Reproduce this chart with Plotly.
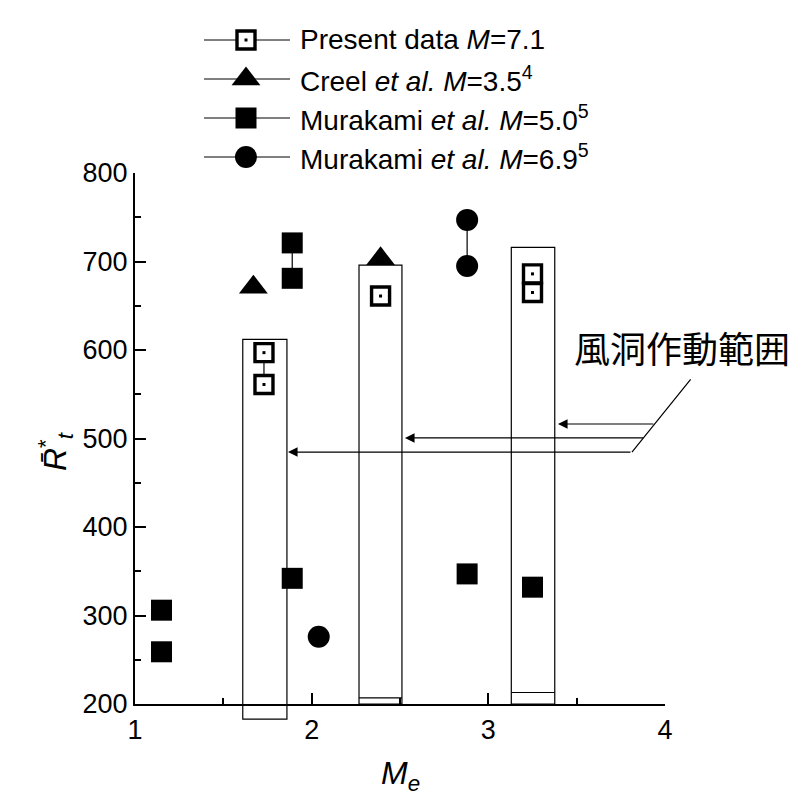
import plotly.graph_objects as go

# ---- data -------------------------------------------------------------
# points sharing a group id are joined by a line
present_x = [1.73, 1.73, 2.39, 3.25, 3.25]
present_y = [597, 561, 661, 686, 665]
present_grp = [0, 0, 1, 2, 2]

creel_x = [1.67, 2.39]
creel_y = [671, 703]
creel_grp = [0, 1]

mura50_x = [1.15, 1.15, 1.89, 1.89, 1.89, 2.88, 3.25]
mura50_y = [306, 259, 721, 681, 342, 347, 332]
mura50_grp = [0, 1, 2, 2, 3, 4, 5]

mura69_x = [2.04, 2.88, 2.88]
mura69_y = [276, 747, 695]
mura69_grp = [0, 1, 1]

# wind-tunnel operating ranges
range_x0 = [1.61, 2.268, 3.13]
range_x1 = [1.86, 2.511, 3.376]
range_y0 = [183, 200, 200]
range_y1 = [612, 696, 716]
range_inner = [None, 207, 213]

legend_labels = [
    "Present data <i>M</i>=7.1",
    "Creel <i>et al.</i> <i>M</i>=3.5<sup>4</sup>",
    "Murakami <i>et al.</i> <i>M</i>=5.0<sup>5</sup>",
    "Murakami <i>et al.</i> <i>M</i>=6.9<sup>5</sup>",
]

# ---- geometry ---------------------------------------------------------
W, H = 795, 805
X_RANGE = [1, 4]
Y_RANGE = [200, 800]
XDOM = [135 / W, 665 / W]
YDOM = [(H - 704) / H, (H - 173) / H]
FONT = "Liberation Sans, Arial, sans-serif"


def ypaper(v):
    return YDOM[0] + (v - Y_RANGE[0]) / (Y_RANGE[1] - Y_RANGE[0]) * (YDOM[1] - YDOM[0])


def grouped(xs, ys, grp):
    """Insert gaps between groups so only points of one group are joined."""
    gx, gy = [], []
    for i, (x, y) in enumerate(zip(xs, ys)):
        if i > 0 and grp[i] != grp[i - 1]:
            gx.append(None)
            gy.append(None)
        gx.append(x)
        gy.append(y)
    return gx, gy


# open square: white-filled box with a small centre dot drawn on top
styles = [
    dict(symbol="square", size=18, color="white", line=dict(width=3.4, color="black")),
    dict(symbol="triangle-up", size=25, color="black", line=dict(width=0)),
    dict(symbol="square", size=21, color="black", line=dict(width=0)),
    dict(symbol="circle", size=22, color="black", line=dict(width=0)),
]
centre_dot = dict(symbol="square", size=3, color="black", line=dict(width=0))

series = [
    grouped(present_x, present_y, present_grp),
    grouped(creel_x, creel_y, creel_grp),
    grouped(mura50_x, mura50_y, mura50_grp),
    grouped(mura69_x, mura69_y, mura69_grp),
]

fig = go.Figure()

for (gx, gy), st in zip(series, styles):
    fig.add_trace(go.Scatter(
        x=gx, y=gy, mode="lines+markers", marker=st,
        line=dict(color="black", width=1.2), showlegend=False,
        cliponaxis=False, connectgaps=False,
    ))
fig.add_trace(go.Scatter(
    x=present_x, y=present_y, mode="markers", marker=centre_dot,
    showlegend=False, cliponaxis=False, hoverinfo="skip",
))

# ---- legend key drawn in pixel space --------------------------------
row_y = [40, 79, 118, 157]
for i, (ry, st, lab) in enumerate(zip(row_y, styles, legend_labels)):
    fig.add_trace(go.Scatter(
        x=[204, 246, 290], y=[ry, ry, ry], mode="lines", line=dict(color="black", width=1),
        xaxis="x2", yaxis="y2", showlegend=False, hoverinfo="skip",
    ))
    fig.add_trace(go.Scatter(
        x=[246], y=[ry], mode="markers", marker=st,
        xaxis="x2", yaxis="y2", showlegend=False, hoverinfo="skip",
    ))
    if i == 0:
        fig.add_trace(go.Scatter(
            x=[246], y=[ry], mode="markers", marker=centre_dot,
            xaxis="x2", yaxis="y2", showlegend=False, hoverinfo="skip",
        ))
    fig.add_annotation(
        x=298 / W, y=1 - ry / H, xref="paper", yref="paper", text=lab,
        showarrow=False, xanchor="left", yanchor="middle",
        font=dict(family=FONT, size=28, color="black"),
    )

# ---- operating-range boxes -------------------------------------------
for x0, x1, y0, y1, yi in zip(range_x0, range_x1, range_y0, range_y1, range_inner):
    fig.add_shape(type="rect", xref="x", yref="paper", x0=x0, x1=x1,
                  y0=ypaper(y0), y1=ypaper(y1), line=dict(color="black", width=1.2),
                  layer="below")
    if yi is not None:
        fig.add_shape(type="line", xref="x", yref="paper", x0=x0, x1=x1,
                      y0=ypaper(yi), y1=ypaper(yi), line=dict(color="black", width=1.2),
                      layer="below")

# ---- callout ----------------------------------------------------------
fig.add_annotation(
    x=572 / W, y=1 - 347 / H, xref="paper", yref="paper", text="風洞作動範囲",
    showarrow=False, xanchor="left", yanchor="middle",
    font=dict(family="Noto Sans CJK JP", size=36, color="black"),
)
arrow_head_x = [3.394, 2.528, 1.866]
arrow_tail_x = [3.943, 3.886, 3.813]
arrow_y = [516.4, 500.6, 484.7]
for hx, tx, ay in zip(arrow_head_x, arrow_tail_x, arrow_y):
    fig.add_annotation(
        x=hx, y=ay, ax=tx, ay=ay, xref="x", yref="y", axref="x", ayref="y",
        text="", showarrow=True, arrowhead=2, arrowsize=1.6, arrowwidth=1.2,
        arrowcolor="black", standoff=0, startstandoff=0,
    )
fig.add_annotation(
    x=3.813, y=484.7, ax=4.152, ay=568.4, xref="x", yref="y", axref="x", ayref="y",
    text="", showarrow=True, arrowhead=0, arrowwidth=1.2, arrowcolor="black",
    standoff=0, startstandoff=0,
)

# ---- axis titles ------------------------------------------------------
fig.add_annotation(
    x=400 / W, y=1 - 775 / H, xref="paper", yref="paper",
    text="<i>M</i><sub><i>e</i></sub>", showarrow=False,
    xanchor="center", yanchor="middle",
    font=dict(family=FONT, size=32, color="black"),
)
fig.add_annotation(
    x=55 / W, y=1 - 452 / H, xref="paper", yref="paper",
    text="<i>R̄</i><sup>*</sup><sub><i>t</i></sub>", showarrow=False, textangle=-90,
    xanchor="center", yanchor="middle",
    font=dict(family=FONT, size=32, color="black"),
)

axis_common = dict(
    showline=True, linewidth=2.2, linecolor="black", ticks="inside", ticklen=11,
    tickwidth=2.2, tickcolor="black", showgrid=False, zeroline=False,
    automargin=False, mirror=False,
    tickfont=dict(family=FONT, size=27, color="black"),
)
fig.update_layout(
    template="none",
    width=W, height=H, margin=dict(l=0, r=0, t=0, b=0, pad=0), autosize=False,
    paper_bgcolor="white", plot_bgcolor="rgba(0,0,0,0)", showlegend=False,
    xaxis=dict(domain=XDOM, range=X_RANGE, dtick=1, tick0=1,
               minor=dict(dtick=0.5, ticks="inside", ticklen=6, tickwidth=2, tickcolor="black"),
               anchor="y", **axis_common),
    yaxis=dict(domain=YDOM, range=Y_RANGE, dtick=100, tick0=200,
               minor=dict(dtick=50, ticks="inside", ticklen=6, tickwidth=2, tickcolor="black"),
               anchor="x", **axis_common),
    xaxis2=dict(domain=[0, 1], range=[0, W], visible=False, anchor="y2",
                fixedrange=True, automargin=False),
    yaxis2=dict(domain=[0, 1], range=[H, 0], visible=False, anchor="x2",
                fixedrange=True, automargin=False),
)

fig.write_html("out.html", config={"responsive": False, "displayModeBar": False})
